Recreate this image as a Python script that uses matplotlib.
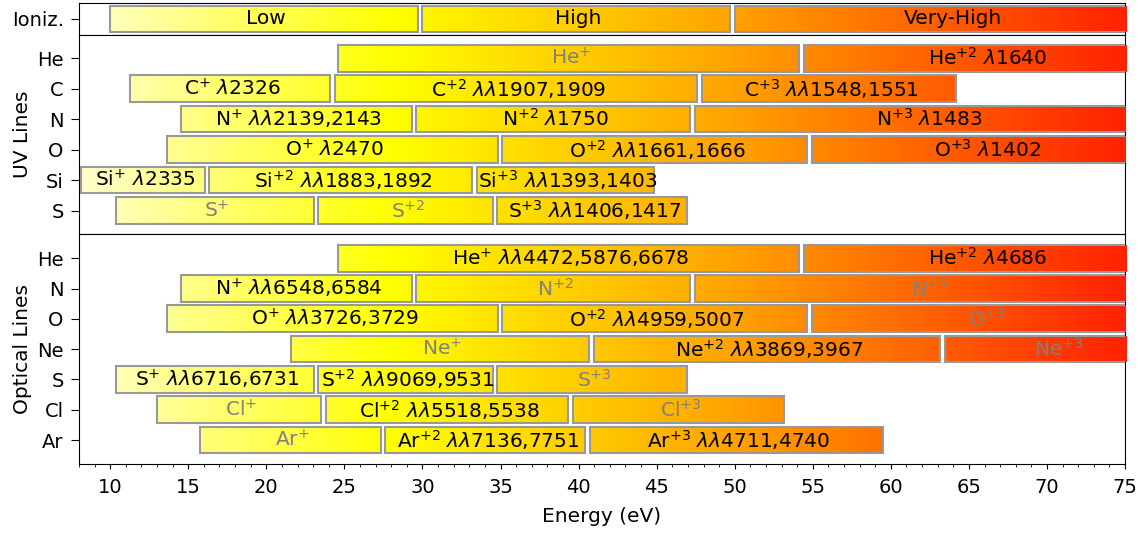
import numpy as np
import matplotlib
matplotlib.use("Agg")
import matplotlib.pyplot as plt
from matplotlib.patches import Rectangle
from matplotlib.colors import LinearSegmentedColormap, Normalize

# ionization classes
ioniz_labels = ["Low", "High", "Very-High"]
ioniz_start = [10.0, 30.0, 50.0]
ioniz_end = [30.0, 50.0, 80.0]

# UV lines: element rows, then (start eV, end eV, label, has line) per stage
uv_elements = ["He", "C", "N", "O", "Si", "S"]
uv_start = [
    [24.59, 54.42],
    [11.26, 24.38, 47.89],
    [14.53, 29.60, 47.45],
    [13.62, 35.12, 54.94],
    [8.15, 16.35, 33.49],
    [10.36, 23.34, 34.79],
]
uv_end = [
    [54.42, 80.0],
    [24.38, 47.89, 64.49],
    [29.60, 47.45, 77.47],
    [35.12, 54.94, 77.41],
    [16.35, 33.49, 45.14],
    [23.34, 34.79, 47.22],
]
uv_text = [
    [r"He$^{+}$", r"He$^{+2}$ $\lambda$1640"],
    [r"C$^{+}$ $\lambda$2326", r"C$^{+2}$ $\lambda\lambda$1907,1909", r"C$^{+3}$ $\lambda\lambda$1548,1551"],
    [r"N$^{+}$ $\lambda\lambda$2139,2143", r"N$^{+2}$ $\lambda$1750", r"N$^{+3}$ $\lambda$1483"],
    [r"O$^{+}$ $\lambda$2470", r"O$^{+2}$ $\lambda\lambda$1661,1666", r"O$^{+3}$ $\lambda$1402"],
    [r"Si$^{+}$ $\lambda$2335", r"Si$^{+2}$ $\lambda\lambda$1883,1892", r"Si$^{+3}$ $\lambda\lambda$1393,1403"],
    [r"S$^{+}$", r"S$^{+2}$", r"S$^{+3}$ $\lambda\lambda$1406,1417"],
]
uv_has_line = [
    [False, True],
    [True, True, True],
    [True, True, True],
    [True, True, True],
    [True, True, True],
    [False, False, True],
]

# optical lines
opt_elements = ["He", "N", "O", "Ne", "S", "Cl", "Ar"]
opt_start = [
    [24.59, 54.42],
    [14.53, 29.60, 47.45],
    [13.62, 35.12, 54.94],
    [21.56, 40.96, 63.45],
    [10.36, 23.34, 34.79],
    [12.97, 23.81, 39.61],
    [15.76, 27.63, 40.74],
]
opt_end = [
    [54.42, 80.0],
    [29.60, 47.45, 77.47],
    [35.12, 54.94, 77.41],
    [40.96, 63.45, 97.12],
    [23.34, 34.79, 47.22],
    [23.81, 39.61, 53.47],
    [27.63, 40.74, 59.81],
]
opt_text = [
    [r"He$^{+}$ $\lambda\lambda$4472,5876,6678", r"He$^{+2}$ $\lambda$4686"],
    [r"N$^{+}$ $\lambda\lambda$6548,6584", r"N$^{+2}$", r"N$^{+3}$"],
    [r"O$^{+}$ $\lambda\lambda$3726,3729", r"O$^{+2}$ $\lambda\lambda$4959,5007", r"O$^{+3}$"],
    [r"Ne$^{+}$", r"Ne$^{+2}$ $\lambda\lambda$3869,3967", r"Ne$^{+3}$"],
    [r"S$^{+}$ $\lambda\lambda$6716,6731", r"S$^{+2}$ $\lambda\lambda$9069,9531", r"S$^{+3}$"],
    [r"Cl$^{+}$", r"Cl$^{+2}$ $\lambda\lambda$5518,5538", r"Cl$^{+3}$"],
    [r"Ar$^{+}$", r"Ar$^{+2}$ $\lambda\lambda$7136,7751", r"Ar$^{+3}$ $\lambda\lambda$4711,4740"],
]
opt_has_line = [
    [True, True],
    [True, False, False],
    [True, True, False],
    [False, True, False],
    [True, True, False],
    [False, True, False],
    [False, True, True],
]

XMIN, XMAX = 8, 75
BAR_H = 0.88
GAP = 0.3        # small white gap before next stage
LABEL_CAP = 78   # where label centering stops for open ranges
FS = 14.5

# colour ramp in energy
e_nodes = [8, 28, 50, 75]
c_nodes = ["#ffffcc", "#ffff00", "#ffa200", "#ff2200"]
cmap = LinearSegmentedColormap.from_list(
    "ion", [((e - XMIN) / (XMAX - XMIN), c) for e, c in zip(e_nodes, c_nodes)])
grad = np.linspace(XMIN, XMAX, 600)[None, :]
norm = Normalize(vmin=XMIN, vmax=XMAX, clip=True)


def gradient_bar(ax, x0, x1, y, label, active=True):
    # bar is cut at the right edge of the axes
    right = min(x1 - GAP, XMAX + 0.05)
    rect = Rectangle((x0, y - BAR_H / 2), right - x0, BAR_H,
                     facecolor="none", edgecolor="#999999", lw=1.5, zorder=3)
    ax.add_patch(rect)
    im = ax.imshow(grad, extent=[XMIN, XMAX + 0.05, y - BAR_H / 2, y + BAR_H / 2],
                   cmap=cmap, norm=norm, aspect="auto", origin="lower",
                   interpolation="bilinear", zorder=2.9)
    im.set_clip_path(rect)
    xc = (x0 + min(x1, LABEL_CAP)) / 2
    ax.text(xc, y, label, ha="center", va="center", fontsize=FS,
            color="black" if active else "gray", zorder=4, clip_on=True)


def rows(ax, elements, starts, ends, texts, flags):
    for i in range(len(elements)):
        for j in range(len(starts[i])):
            gradient_bar(ax, starts[i][j], ends[i][j], i, texts[i][j], flags[i][j])
    ax.set_yticks(range(len(elements)))
    ax.set_yticklabels(elements)


fig = plt.figure(figsize=(11.43, 5.33), dpi=100)
left, width = 0.0691, 0.9152
ax_ion = fig.add_axes([left, 0.935, width, 0.059])
ax_uv = fig.add_axes([left, 0.561, width, 0.374], sharex=ax_ion)
ax_opt = fig.add_axes([left, 0.129, width, 0.432], sharex=ax_ion)

for k in range(len(ioniz_labels)):
    gradient_bar(ax_ion, ioniz_start[k], ioniz_end[k], 0, ioniz_labels[k])
ax_ion.set_yticks([0])
ax_ion.set_yticklabels(["Ioniz."])
ax_ion.set_ylim(0.52, -0.52)

rows(ax_uv, uv_elements, uv_start, uv_end, uv_text, uv_has_line)
ax_uv.set_ylim(len(uv_elements) - 0.23, -0.77)
ax_uv.set_ylabel("UV Lines", fontsize=FS)

rows(ax_opt, opt_elements, opt_start, opt_end, opt_text, opt_has_line)
ax_opt.set_ylim(len(opt_elements) - 0.2, -0.8)
ax_opt.set_ylabel("Optical Lines", fontsize=FS)

for ax in (ax_ion, ax_uv, ax_opt):
    ax.tick_params(axis="y", labelsize=14, length=6, pad=5)
    ax.set_xlim(XMIN, XMAX)
for ax in (ax_ion, ax_uv):
    ax.tick_params(axis="x", which="both", bottom=False, labelbottom=False)

ax_opt.set_xticks(np.arange(10, 76, 5))
ax_opt.set_xticks(np.arange(8, 76, 1), minor=True)
ax_opt.tick_params(axis="x", labelsize=14, pad=6.5)
ax_opt.set_xlabel("Energy (eV)", fontsize=FS, labelpad=7)
ax_opt.set_xlim(XMIN, XMAX)

fig.savefig("out.png", dpi=100)
